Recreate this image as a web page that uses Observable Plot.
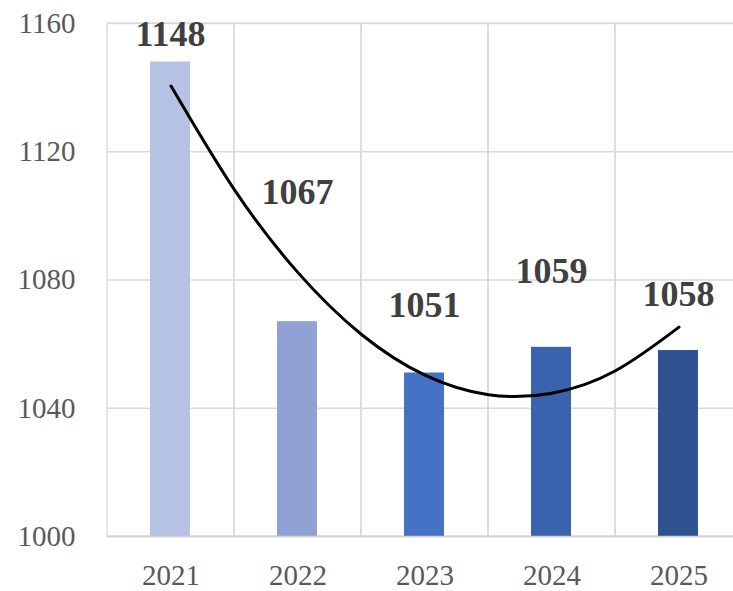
<!DOCTYPE html>
<html>
<head>
<meta charset="utf-8">
<script src="https://cdn.jsdelivr.net/npm/d3@7"></script>
<script src="https://cdn.jsdelivr.net/npm/@observablehq/plot@0.6"></script>
<style>
  html, body { margin: 0; padding: 0; background: #fff; overflow: hidden; }
  #chart { width: 733px; height: 591px; overflow: hidden; }
  #chart svg { max-width: none !important; }
</style>
</head>
<body>
<div id="chart"></div>
<script>
const years = [2021, 2022, 2023, 2024, 2025];
const values = [1148, 1067, 1051, 1059, 1058];
const barColors = ["#b6c2e3", "#8fa2d3", "#4472c4", "#3a63ae", "#2f5290"];
// data-label anchor values and horizontal nudges
const labelAt = [1156.3, 1107.0, 1072.0, 1082.6, 1075.2];
const labelDx = [-2.5, -2, -2.5, -7.5, -2.5];
// polynomial trendline
const trendX = [2021, 2021.5, 2022, 2022.5, 2023, 2023.5, 2024, 2024.5, 2025];
const trendY = [1140.5, 1108.1, 1082.3, 1063.0, 1050.3, 1044.2, 1044.7, 1051.7, 1065.3];
const yTicks = [1000, 1040, 1080, 1120, 1160];

const bars = years.map((y, i) => ({year: y, value: values[i], color: barColors[i], lab: labelAt[i], dx: labelDx[i]}));
const trend = trendX.map((x, i) => ({x, y: trendY[i]}));

const chart = Plot.plot({
  width: 743,
  height: 591,
  marginLeft: 107,
  marginRight: 1,
  marginTop: 23,
  marginBottom: 55,
  style: {fontFamily: "'Liberation Serif', 'Times New Roman', serif", fontSize: "29px", color: "#595959", background: "#fff", maxWidth: "none"},
  x: {domain: [2020.5, 2025.5], label: null},
  y: {domain: [1000, 1160], label: null},
  marks: [
    Plot.ruleY(yTicks, {stroke: "#d9d9d9", strokeWidth: 1.3}),
    Plot.rectY(years, {x1: d => d - 0.5, x2: d => d + 0.5, y1: 1000, y2: 1160, fill: "none", stroke: "#d9d9d9", strokeWidth: 1.3}),
    Plot.rectY(bars, {x1: d => d.year - 0.5, x2: d => d.year + 0.5, y1: 1000, y2: "value", fill: "color", insetLeft: 43, insetRight: 44}),
    Plot.ruleY([1000], {stroke: "#d0d0d0", strokeWidth: 1.5}),
    Plot.line(trend, {x: "x", y: "y", curve: "natural", stroke: "#000", strokeWidth: 3}),
    Plot.text(bars, {x: "year", y: "lab", text: d => String(d.value), dx: bars.map(b => b.dx), fontWeight: "bold", fontSize: 36, fill: "#404040"}),
    Plot.axisX({ticks: years, tickFormat: d => String(d), tickSize: 0, tickPadding: 28, fontSize: 29, fill: "#595959", label: null}),
    Plot.axisY({ticks: yTicks, tickFormat: d => String(d), tickSize: 0, tickPadding: 32, fontSize: 29, fill: "#595959", label: null})
  ]
});
document.getElementById("chart").appendChild(chart);
</script>
</body>
</html>
